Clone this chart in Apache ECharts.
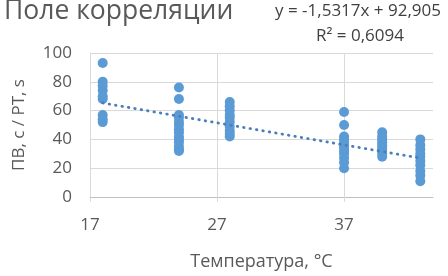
<!DOCTYPE html>
<html lang="ru">
<head>
    <meta charset="UTF-8">
    <title>Поле корреляции</title>
    <script src="https://cdn.jsdelivr.net/npm/echarts@6/dist/echarts.min.js"></script>
</head>
<style>
    body{
        margin: 0;
        padding: 0;
    }
</style>
<body>
<div id="main" style="width: 448px;height:276px;"></div>
<script>
    // температура (ось X) для каждой группы точек
    var temps = [18, 24, 28, 37, 40, 43];
    // значения ПВ/РТ в каждой группе
    var group18 = [93, 80, 77, 74, 70, 68, 57, 54, 52];
    var group24 = [76, 68, 57, 55, 52, 50, 47, 45, 42, 40, 38, 35, 33, 32];
    var group28 = [66, 63, 60, 57, 55, 52, 49, 46, 44, 42];
    var group37 = [59, 50, 42, 40, 38, 36, 34, 32, 30, 27, 24, 20];
    var group40 = [45, 42, 40, 38, 36, 34, 32, 30, 28];
    var group43 = [40, 36, 33, 30, 28, 25, 22, 18, 15, 11];
    // линия тренда (концы)
    var trendX = [18, 43];
    var trendY = [65.3, 27.0];

    var groups = [group18, group24, group28, group37, group40, group43];
    var points = [];
    for (var i = 0; i < groups.length; i++) {
        for (var j = 0; j < groups[i].length; j++) {
            points.push([temps[i], groups[i][j]]);
        }
    }
    var trend = [];
    for (var k = 0; k < trendX.length; k++) {
        trend.push([trendX[k], trendY[k]]);
    }

    var font = 'Open Sans';
    var grey = '#595959';
    var chart = echarts.init(document.getElementById('main'));
    var option = {
        animation: false,
        textStyle: {fontFamily: font},
        title: [{
            text: 'Поле корреляции',
            left: -1,
            top: -7,
            textStyle: {fontFamily: font, fontSize: 26.5, fontWeight: 'normal', color: grey}
        }, {
            text: 'y = -1,5317x + 92,905',
            right: 2,
            top: -2,
            textStyle: {fontFamily: font, fontSize: 17, fontWeight: 'normal', color: '#404040'}
        }, {
            text: 'R² = 0,6094',
            right: 39,
            top: 23,
            textStyle: {fontFamily: font, fontSize: 17, fontWeight: 'normal', color: '#404040'}
        }],
        grid: {left: 90, right: 15, top: 53, bottom: 70},
        xAxis: {
            type: 'value',
            min: 17,
            max: 44,
            interval: 10,
            name: 'Температура, °C',
            nameLocation: 'middle',
            nameGap: 56,
            nameTextStyle: {fontSize: 18, color: grey},
            axisLine: {lineStyle: {color: '#bfbfbf'}},
            axisTick: {show: true, length: 5, lineStyle: {color: '#d9d9d9'}},
            axisLabel: {
                fontSize: 17, color: grey, margin: 20, showMaxLabel: false
            },
            splitLine: {show: true, showMaxLine: false, lineStyle: {color: '#d9d9d9'}}
        },
        yAxis: {
            type: 'value',
            min: 0,
            max: 100,
            interval: 20,
            name: 'ПВ, с / РТ, s',
            nameLocation: 'middle',
            nameGap: 62,
            nameTextStyle: {fontSize: 17, color: grey},
            axisLine: {show: true, lineStyle: {color: '#d9d9d9'}},
            axisTick: {show: false},
            axisLabel: {fontSize: 17, color: grey, margin: 18},
            splitLine: {show: true, lineStyle: {color: '#d9d9d9'}}
        },
        series: [{
            type: 'scatter',
            data: points,
            symbolSize: 10,
            itemStyle: {color: '#5b9bd5', opacity: 1},
            z: 2
        }, {
            type: 'line',
            data: trend,
            symbol: 'none',
            lineStyle: {color: '#4a7ebb', width: 2.8, type: [0.5, 6], cap: 'round'},
            z: 3
        }]
    };
    chart.setOption(option);
</script>
</body>
</html>
